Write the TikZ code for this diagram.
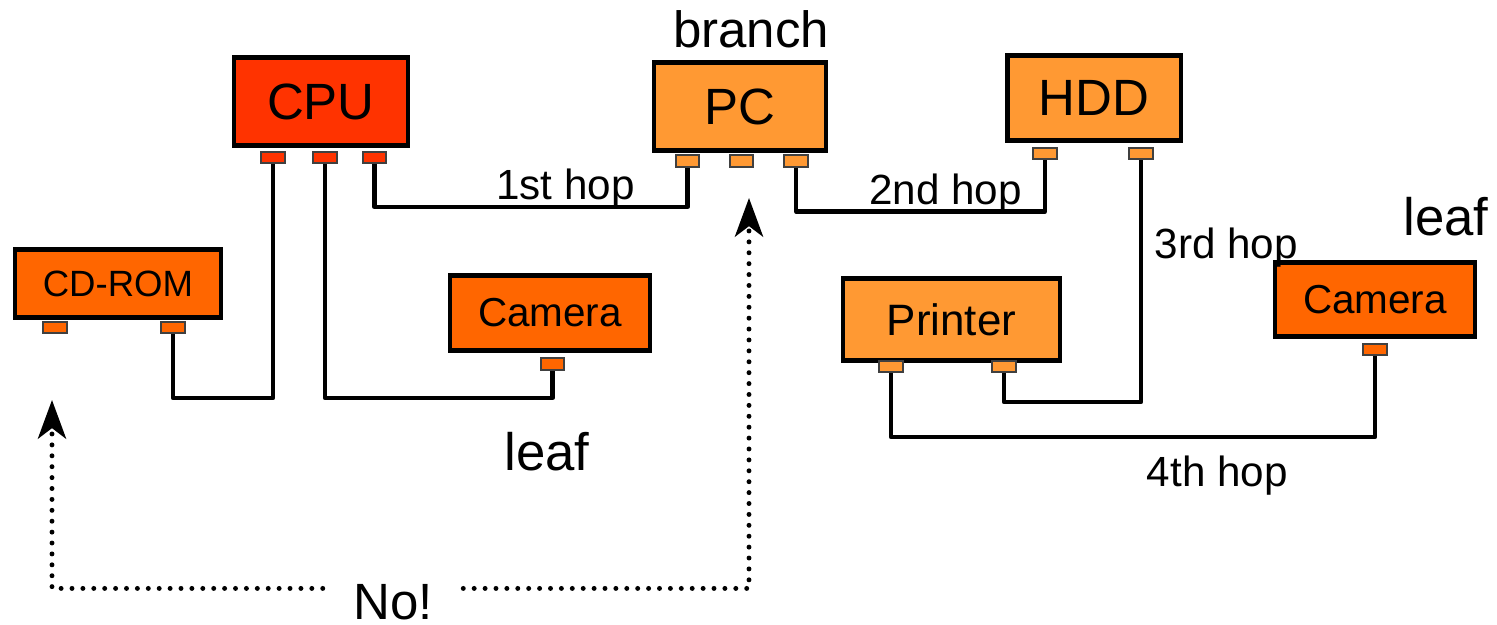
\documentclass[tikz,border=0pt]{standalone}
\usepackage{fontspec}
\setmainfont{Liberation Sans}
\usetikzlibrary{arrows.meta}

\definecolor{cpured}{HTML}{FF3300}
\definecolor{devorange}{HTML}{FF6600}
\definecolor{hostorange}{HTML}{FF9933}

\tikzset{
  device/.style={draw=black, line width=1.3pt, inner sep=0pt},
  port/.style={draw=black!75, line width=0.45pt, inner sep=0pt,
    minimum width=0.235cm, minimum height=0.115cm},
  wire/.style={line width=1.2pt, line join=round},
  hop/.style={font=\fontsize{12}{14}\selectfont},
  tag/.style={font=\fontsize{15}{18}\selectfont},
  noway/.style={line width=1.4pt, line cap=round, dash pattern=on 0pt off 3.1pt,
    -{Stealth[length=11pt, width=8pt, inset=3pt]}},
}

\begin{document}
\begin{tikzpicture}[x=0.01cm, y=-0.01cm]
    \useasboundingbox (0,0) rectangle (1497,625);

    % boxes
    \node[device, fill=cpured, minimum width=1.735cm, minimum height=0.885cm,
      font=\fontsize{14.5}{17}\selectfont] (cpu) at (321,101.5) {CPU};
    \node[device, fill=hostorange, minimum width=1.715cm, minimum height=0.885cm,
      font=\fontsize{14.5}{17}\selectfont] (pc) at (740,106.5) {PC};
    \node[device, fill=hostorange, minimum width=1.735cm, minimum height=0.855cm,
      font=\fontsize{14.5}{17}\selectfont] (hdd) at (1094,98) {HDD};
    \node[device, fill=devorange, minimum width=2.055cm, minimum height=0.685cm,
      font=\fontsize{10.4}{12}\selectfont] (cdrom) at (118,283.5) {CD-ROM};
    \node[device, fill=devorange, minimum width=1.995cm, minimum height=0.755cm,
      font=\fontsize{11.5}{14}\selectfont] (camL) at (550,313) {Camera};
    \node[device, fill=hostorange, minimum width=2.165cm, minimum height=0.825cm,
      font=\fontsize{12.5}{15}\selectfont] (printer) at (951.5,319.5) {Printer};
    \node[device, fill=devorange, minimum width=1.995cm, minimum height=0.745cm,
      font=\fontsize{11.5}{14}\selectfont] (camR) at (1375,299.5) {Camera};

    % ports
    \foreach \x/\n in {273/1, 325/2, 374.5/3}
      \node[port, fill=cpured] (cpu\n) at (\x,157.5) {};
    \foreach \x/\n in {687.5/1, 741.5/2, 796/3}
      \node[port, fill=hostorange] (pc\n) at (\x,161) {};
    \foreach \x/\n in {1045/1, 1141/2}
      \node[port, fill=hostorange] (hdd\n) at (\x,153.5) {};
    \foreach \x/\n in {55/1, 173/2}
      \node[port, fill=devorange] (cd\n) at (\x,327.5) {};
    \foreach \x/\n in {891/1, 1004/2}
      \node[port, fill=hostorange] (pr\n) at (\x,366.5) {};
    \node[port, fill=devorange] (caml1) at (552.5,364) {};
    \node[port, fill=devorange] (camr1) at (1375,349.5) {};

    % cables
    \draw[wire] (cd2.south) -- ++(0,64) -| (cpu1.south);
    \draw[wire] (cpu2.south) -- ++(0,234) -| (caml1.south);
    \draw[wire] (cpu3.south) -- ++(0,43) -| node[hop, above=-4.3pt, pos=0.305]{1st hop} (pc1.south);
    \draw[wire] (pc3.south) -- ++(0,44) -| node[hop, above=-4.3pt, pos=0.3]{2nd hop} (hdd1.south);
    \draw[wire] (hdd2.south) -- node[hop, right=0pt, pos=0.36]{3rd hop} ++(0,242) -| (pr2.south);
    \draw[wire] (pr1.south) -- ++(0,64) -| node[hop, below=1.5pt, pos=0.337]{4th hop} (camr1.south);

    % labels
    \node[font=\fontsize{14.5}{17}\selectfont] (branch) at (751,29) {branch};
    \node[tag] (leafR) at (1446,217) {leaf};
    \node[tag] (leafL) at (547,452) {leaf};

    % forbidden paths
    \node[font=\fontsize{14.5}{17}\selectfont, inner xsep=8.5pt, inner ysep=0pt] (no) at (393,602) {No!};
    \coordinate (upL) at (52,400);
    \coordinate (upR) at (749,198);
    \draw[noway] ([yshift=-1.4pt]no.north west) -| (upL);
    \draw[noway] ([yshift=-1.4pt]no.north east) -| (upR);
\end{tikzpicture}
\end{document}
